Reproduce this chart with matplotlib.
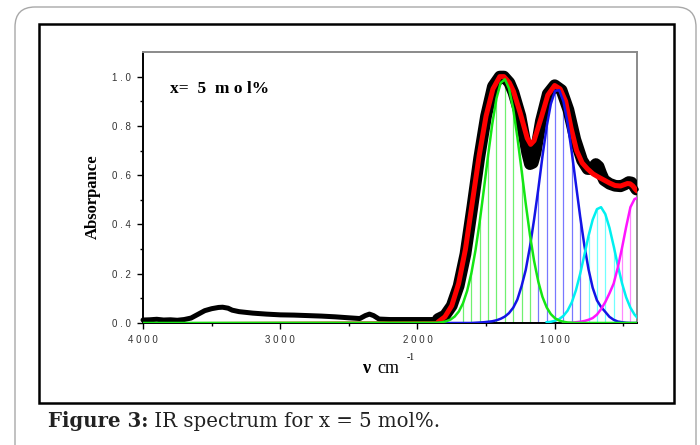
import matplotlib

matplotlib.use("Agg")
import matplotlib.pyplot as plt
import numpy as np
from matplotlib.patches import FancyBboxPatch, Rectangle
from matplotlib.transforms import IdentityTransform

# measured spectrum (thick black trace)
black_x = [4000, 3950, 3900, 3850, 3800, 3750, 3700, 3650, 3600, 3550, 3500, 3450, 3420,
           3380, 3350, 3300, 3200, 3100, 3000, 2900, 2800, 2700, 2600, 2500, 2420, 2380,
           2350, 2320, 2280, 2200, 2100, 2000, 1900, 1850, 1800, 1750, 1700, 1650, 1600,
           1550, 1500, 1450, 1400, 1370, 1330, 1300, 1250, 1200, 1180, 1160, 1140, 1100,
           1050, 1000, 950, 900, 850, 800, 760, 730, 700, 680, 660, 640, 600, 560, 520,
           490, 460, 440, 420, 405]
black_y = [0.012, 0.013, 0.015, 0.012, 0.013, 0.011, 0.014, 0.02, 0.035, 0.05, 0.058, 0.063, 0.064,
           0.06, 0.052, 0.046, 0.04, 0.036, 0.033, 0.032, 0.03, 0.028, 0.025, 0.021, 0.018, 0.03,
           0.036, 0.03, 0.016, 0.014, 0.014, 0.014, 0.014, 0.016, 0.03, 0.07, 0.15, 0.28, 0.47,
           0.67, 0.84, 0.96, 1.0, 1.0, 0.975, 0.935, 0.84, 0.69, 0.645, 0.65, 0.69, 0.82,
           0.93, 0.965, 0.945, 0.865, 0.745, 0.66, 0.625, 0.625, 0.645, 0.635, 0.605, 0.58, 0.565,
           0.557, 0.555, 0.562, 0.572, 0.57, 0.555, 0.542]

# total fit (red)
red_x = [4000, 1850, 1800, 1750, 1700, 1650, 1600, 1550, 1500, 1450, 1400, 1370, 1330, 1300,
         1250, 1200, 1175, 1150, 1100, 1050, 1000, 960, 920, 880, 840, 800, 760, 720, 680,
         640, 600, 560, 520, 490, 470, 450, 430, 415, 400]
red_y = [0.0, 0.004, 0.025, 0.07, 0.16, 0.3, 0.49, 0.68, 0.84, 0.95, 1.0, 1.0, 0.975, 0.94,
         0.85, 0.75, 0.725, 0.74, 0.83, 0.925, 0.964, 0.95, 0.9, 0.79, 0.7, 0.65, 0.625, 0.605,
         0.592, 0.58, 0.568, 0.558, 0.556, 0.562, 0.566, 0.565, 0.556, 0.545, 0.536]

# fitted Gaussian components, all on one wavenumber grid
comp_x = [4000, 1851, 1820, 1790, 1759, 1729, 1698, 1668, 1638, 1607, 1577, 1546, 1516, 1485,
          1455, 1424, 1394, 1363, 1333, 1302, 1272, 1241, 1211, 1180, 1150, 1119, 1089, 1058,
          1028, 997, 967, 936, 906, 875, 845, 814, 784, 753, 723, 692, 662, 631, 601, 570,
          540, 509, 479, 448, 418, 400]
green_y = [0.0, 0.001, 0.003, 0.007, 0.014, 0.026, 0.047, 0.08, 0.13, 0.202, 0.295, 0.412, 0.542,
           0.681, 0.807, 0.912, 0.974, 0.989, 0.952, 0.869, 0.755, 0.619, 0.485, 0.357, 0.252,
           0.167, 0.106, 0.063, 0.036, 0.019, 0.01, 0.005, 0.002, 0.001, 0.0, 0.0, 0.0, 0.0,
           0.0, 0.0, 0.0, 0.0, 0.0, 0.0, 0.0, 0.0, 0.0, 0.0, 0.0, 0.0]
blue_y = [0.0, 0.0, 0.0, 0.0, 0.0, 0.0, 0.0, 0.0, 0.0, 0.0, 0.001, 0.002, 0.003, 0.005,
          0.007, 0.011, 0.017, 0.026, 0.04, 0.062, 0.095, 0.15, 0.215, 0.31, 0.42, 0.545,
          0.676, 0.798, 0.889, 0.942, 0.945, 0.899, 0.812, 0.692, 0.563, 0.431, 0.316, 0.217,
          0.143, 0.092, 0.065, 0.045, 0.025, 0.013, 0.006, 0.003, 0.001, 0.0, 0.0, 0.0]
cyan_y = [0.0, 0.0, 0.0, 0.0, 0.0, 0.0, 0.0, 0.0, 0.0, 0.0, 0.0, 0.0, 0.0, 0.0,
          0.0, 0.0, 0.0, 0.0, 0.0, 0.0, 0.0, 0.0, 0.0, 0.0, 0.0, 0.001, 0.002, 0.003,
          0.005, 0.009, 0.016, 0.029, 0.05, 0.084, 0.133, 0.2, 0.275, 0.354, 0.419, 0.462,
          0.47, 0.442, 0.387, 0.312, 0.234, 0.161, 0.104, 0.062, 0.034, 0.023]
magenta_y = [0.0, 0.0, 0.0, 0.0, 0.0, 0.0, 0.0, 0.0, 0.0, 0.0, 0.0, 0.0, 0.0, 0.0,
             0.0, 0.0, 0.0, 0.0, 0.0, 0.0, 0.0, 0.0, 0.0, 0.0, 0.0, 0.0, 0.0, 0.0,
             0.0, 0.0, 0.0, 0.0, 0.0, 0.001, 0.003, 0.005, 0.008, 0.013, 0.02, 0.034,
             0.056, 0.085, 0.12, 0.16, 0.225, 0.305, 0.39, 0.47, 0.503, 0.507]

x_major = [4000, 3000, 2000, 1000]
x_minor = [3500, 2500, 1500, 500]
y_major = [0.0, 0.2, 0.4, 0.6, 0.8, 1.0]
y_minor = [0.1, 0.3, 0.5, 0.7, 0.9]


def spaced(s):
    return " ".join(s)


fig = plt.figure(figsize=(7.0, 4.45), dpi=100)
fig.patch.set_facecolor("white")

# outer rounded panel and inner black frame (pixel coordinates)
fig.add_artist(FancyBboxPatch((15, -30), 681, 468, boxstyle="round,pad=0,rounding_size=20",
                              transform=IdentityTransform(), facecolor="none",
                              edgecolor="#a8a8a8", lw=1.0, zorder=0))
fig.add_artist(Rectangle((39, 42), 635, 379, transform=IdentityTransform(), facecolor="none",
                         edgecolor="black", lw=1.8, zorder=1))

ax = fig.add_axes([0.2043, 0.2742, 0.7057, 0.609])
ax.set_zorder(2)
ax.set_facecolor("none")
ax.set_xlim(4000, 400)
ax.set_ylim(0, 1.1)

cx = np.array(comp_x)
idx = np.arange(len(cx))
comps = [
    (np.array(blue_y), "#1414e6", "#7878ff", 1851),
    (np.array(cyan_y), "#00f0f0", "#70ffff", 1058),
    (np.array(magenta_y), "#ff14ff", "#ff88ff", 936),
    (np.array(green_y), "#14e614", "#70f070", 4000),
]
stack = np.vstack([c[0] for c in comps])
top = stack.max(axis=0)

# drop lines (every other grid point), drawn for the dominant component
for ys, col, light, start in comps:
    m = (idx % 2 == 1) & (cx < 1700) & (cx > 420) & (ys > 0.02) & (ys >= top)
    ax.vlines(cx[m], 0, ys[m], color=light, lw=0.9, zorder=2)

bx = np.array(black_x)
by = np.array(black_y)
ax.plot(bx, by, color="black", lw=3.6, solid_capstyle="round", zorder=3, clip_on=False)
thick = bx <= 1850
ax.plot(bx[thick], by[thick], color="black", lw=8.5, solid_capstyle="round", zorder=3)

rx = np.array(red_x)
ry = np.array(red_y)
ax.plot(rx, ry, color="red", lw=1.2, zorder=4)
ax.plot(rx[rx <= 1850], ry[rx <= 1850], color="red", lw=3.6, solid_capstyle="round", zorder=4)

for ys, col, light, start in comps:
    m = cx <= start
    ax.plot(cx[m], ys[m], color=col, lw=1.8, zorder=5)

# axes styling
for side in ["left", "bottom"]:
    ax.spines[side].set_color("black")
    ax.spines[side].set_linewidth(1.4)
for side in ["top", "right"]:
    ax.spines[side].set_color("#8a8a8a")
    ax.spines[side].set_linewidth(1.4)

ax.set_xticks(x_major)
ax.set_xticklabels([spaced(str(v)) for v in x_major])
ax.set_xticks(x_minor, minor=True)
ax.set_yticks(y_major)
ax.set_yticklabels([spaced(f"{v:.1f}") for v in y_major])
ax.set_yticks(y_minor, minor=True)
ax.tick_params(which="major", direction="out", length=4, width=1, color="black",
               labelsize=7, labelcolor="#333333", pad=5)
ax.tick_params(which="minor", direction="out", length=2.5, width=1, color="black")
for lab in ax.get_xticklabels() + ax.get_yticklabels():
    lab.set_family("Liberation Sans")

ax.text(0.055, 0.862, "x=  5  m o l%", transform=ax.transAxes, ha="left", va="center",
        fontsize=12.5, fontweight="bold", family="Liberation Serif")

fig.text(93 / 700, 0.557, "Absorpance", rotation=90, ha="center", va="center",
         fontsize=12, fontweight="bold", family="Liberation Serif")
fig.text(366 / 700, 0.172, "ν", ha="center", va="center", fontsize=13,
         fontweight="bold", family="Liberation Serif")
fig.text(388 / 700, 0.172, "cm", ha="center", va="center", fontsize=13,
         family="Liberation Serif")
fig.text(411 / 700, 0.197, "-1", ha="center", va="center", fontsize=7,
         family="Liberation Serif")

cap1 = fig.text(48 / 700, 0.041, "Figure 3:", ha="left", va="baseline", fontsize=14.2,
                fontweight="bold", family="DejaVu Serif", color="#222222")
ax.annotate(" IR spectrum for x = 5 mol%.", xy=(1, 0), xycoords=cap1, ha="left", va="bottom",
            fontsize=14.2, family="DejaVu Serif", color="#222222", annotation_clip=False)

fig.savefig("out.png", dpi=100, facecolor="white")
